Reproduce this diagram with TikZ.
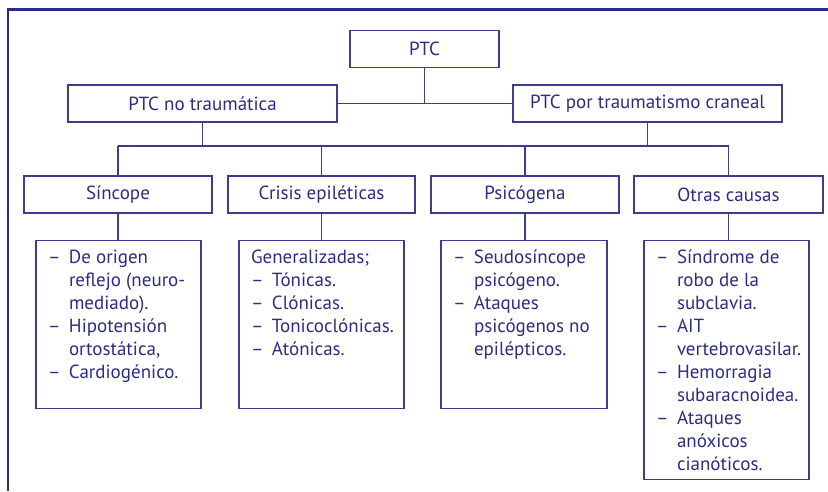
\documentclass[tikz,border=0pt]{standalone}
\usepackage{fontspec}
\setmainfont{PT Sans}
\definecolor{navy}{RGB}{43,45,127}
\definecolor{boxline}{RGB}{60,62,140}
\newcommand{\guion}{\makebox[21pt][l]{--}}
\newcommand{\sigue}{\hspace{21pt}}
\begin{document}
\begin{tikzpicture}[x=1pt,y=-1pt,line width=1.3pt,
  every node/.style={text=navy,font=\fontsize{19}{23}\selectfont},
  cajon/.style={draw=boxline,rectangle,inner sep=0pt,minimum height=37pt},
  lista/.style={draw=boxline,rectangle,inner sep=0pt,anchor=north,minimum width=165pt},
  texto/.style={anchor=base west,inner sep=0pt,align=left},
  linea/.style={draw=boxline}]
\useasboundingbox (0,0) rectangle (828,491);
\draw[navy,line width=2.4pt] (7,9.5) -- (828,9.5);
\draw[navy,line width=2.4pt] (8.2,9.5) -- (8.2,491);
\node[cajon,minimum width=149pt] (ptc) at (424.5,49) {PTC};
\node[cajon,minimum width=269pt] (ptcno) at (202.5,103.5) {PTC no traumática};
\node[cajon,minimum width=269pt] (ptctr) at (647.5,103.5) {PTC por traumatismo craneal};
\node[cajon,minimum width=188pt] (sin) at (118,194.5) {Síncope};
\node[cajon,minimum width=187pt] (cri) at (321.5,194.5) {Crisis epiléticas};
\node[cajon,minimum width=188pt] (psi) at (525,194.5) {Psicógena};
\node[cajon,minimum width=189pt] (otr) at (728.5,194.5) {Otras causas};
\node[lista,minimum height=168pt] (sinl) at (118.5,240) {};
\node[lista,minimum height=168pt] (cril) at (321.5,240) {};
\node[lista,minimum height=168pt,minimum width=166pt] (psil) at (524,240) {};
\node[lista,minimum height=239pt] (otrl) at (726.5,240) {};
\coordinate (bus) at (0,146);
% texts of the lists
\node[texto] (sint) at ([shift={(12,23)}]sinl.north west) {\begin{tabular}[t]{@{}l@{}}
\guion De origen\\ \sigue reflejo (neuro-\\ \sigue mediado).\\ \guion Hipotensión\\ \sigue ortostática,\\ \guion Cardiogénico.\end{tabular}};
\node[texto] (crit) at ([shift={(12,23)}]cril.north west) {\begin{tabular}[t]{@{}l@{}}
Generalizadas;\\ \guion Tónicas.\\ \guion Clónicas.\\ \guion Tonicoclónicas.\\ \guion Atónicas.\end{tabular}};
\node[texto] (psit) at ([shift={(12,23)}]psil.north west) {\begin{tabular}[t]{@{}l@{}}
\guion Seudosíncope\\ \sigue psicógeno.\\ \guion Ataques\\ \sigue psicógenos no\\ \sigue epilépticos.\end{tabular}};
\node[texto] (otrt) at ([shift={(12,23)}]otrl.north west) {\begin{tabular}[t]{@{}l@{}}
\guion Síndrome de\\ \sigue robo de la\\ \sigue subclavia.\\ \guion AIT\\ \sigue vertebrovasilar.\\ \guion Hemorragia\\ \sigue subaracnoidea.\\ \guion Ataques\\ \sigue anóxicos\\ \sigue cianóticos.\end{tabular}};
% connectors
\draw[linea] (ptc.south) -- (ptc.south |- ptcno.east);
\draw[linea] (ptcno.east) -- (ptctr.west);
\draw[linea] (ptcno.south) -- (ptcno.south |- bus);
\draw[linea] (ptctr.south) -- (ptctr.south |- bus);
\draw[linea] (sin.north |- bus) -- (otr.north |- bus);
\foreach \n in {sin,cri,psi,otr}{
  \draw[linea] (\n.north |- bus) -- (\n.north);
  \draw[linea] (\n.south) -- (\n.south |- \n l.north);
}
\end{tikzpicture}
\end{document}
